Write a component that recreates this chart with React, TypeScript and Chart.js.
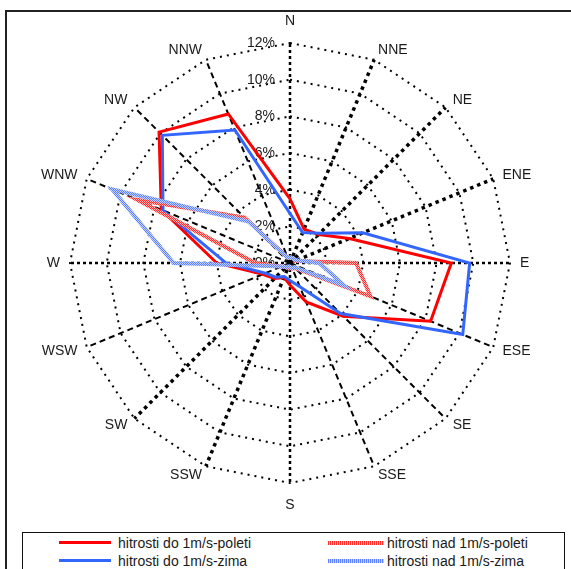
import React, { useEffect, useRef } from 'react';
import { Chart, registerables } from 'chart.js';

Chart.register(...registerables);

const DIRECTIONS = ['N', 'NNE', 'NE', 'ENE', 'E', 'ESE', 'SE', 'SSE', 'S', 'SSW', 'SW', 'WSW', 'W', 'WNW', 'NW', 'NNW'];
const TICK_VALUES = [0, 2, 4, 6, 8, 10, 12];
const TICK_SUFFIX = '%';
const SERIES_NAMES = [
  'hitrosti do 1m/s-poleti',
  'hitrosti do 1m/s-zima',
  'hitrosti nad 1m/s-poleti',
  'hitrosti nad 1m/s-zima',
];
const DO_POLETI = [3.5, 2.0, 2.2, 3.5, 8.8, 8.3, 4.1, 2.3, 1.2, 0.85, 1.2, 1.6, 4.0, 7.6, 10.1, 8.8];
const DO_ZIMA = [2.7, 1.8, 2.3, 4.3, 9.8, 10.2, 3.9, 1.4, 0.95, 0.8, 1.1, 1.45, 3.5, 7.5, 9.85, 7.85];
const NAD_POLETI = [0.3, 0.3, 0.3, 0.3, 3.6, 4.75, 0.4, 0.3, 0.3, 0.3, 0.3, 0.5, 1.9, 9.0, 3.5, 0.3];
const NAD_ZIMA = [0.3, 0.3, 0.3, 0.4, 1.6, 3.2, 0.3, 0.3, 0.2, 0.2, 0.3, 0.5, 6.35, 10.5, 3.2, 0.3];

const FONT = '"Liberation Sans", Arial, sans-serif';

function makePattern(ctx: CanvasRenderingContext2D, light: string, dark: string) {
  const c = document.createElement('canvas');
  c.width = 2;
  c.height = 2;
  const g = c.getContext('2d')!;
  g.fillStyle = light;
  g.fillRect(0, 0, 2, 2);
  g.fillStyle = dark;
  g.fillRect(0, 0, 1, 1);
  g.fillRect(1, 1, 1, 1);
  return ctx.createPattern(c, 'repeat');
}

const labelPlugin = {
  id: 'roseLabels',
  beforeDatasetsDraw(chart: any) {
    const s = chart.scales.r;
    const ctx = chart.ctx as CanvasRenderingContext2D;
    ctx.save();
    ctx.font = `14px ${FONT}`;
    ctx.fillStyle = '#1a1a1a';
    ctx.textAlign = 'right';
    ctx.textBaseline = 'middle';
    s.ticks.forEach((t: any) => {
      const d = s.getDistanceFromCenterForValue(t.value);
      ctx.fillText(`${t.value}${TICK_SUFFIX}`, s.xCenter - 15, s.yCenter - d);
    });
    ctx.restore();
  },
  afterDraw(chart: any) {
    const s = chart.scales.r;
    const ctx = chart.ctx as CanvasRenderingContext2D;
    ctx.save();
    ctx.font = `14px ${FONT}`;
    ctx.fillStyle = '#1a1a1a';
    ctx.textBaseline = 'middle';
    DIRECTIONS.forEach((lab, i) => {
      const p = s.getPointPosition(i, s.drawingArea + 10);
      let x = p.x;
      let y = p.y;
      if (i === 0) {
        ctx.textAlign = 'center';
        y -= 12;
      } else if (i === 8) {
        ctx.textAlign = 'center';
        y += 12;
      } else if (p.x > s.xCenter) {
        ctx.textAlign = 'left';
      } else {
        ctx.textAlign = 'right';
      }
      ctx.fillText(lab, x, y);
    });
    ctx.restore();
  },
};

function angleStyle(i: number) {
  if (i % 4 === 0) return { w: 2.5, dash: [3, 3] };
  if (i === 1 || i === 2 || i === 9 || i === 10 || i === 3) return { w: 3.5, dash: [3.5, 4] };
  return { w: 2, dash: [6, 4] };
}

function App() {
  const ref = useRef<HTMLCanvasElement>(null);

  useEffect(() => {
    const canvas = ref.current!;
    const ctx = canvas.getContext('2d')!;
    const redPat = makePattern(ctx, '#ffb4b4', '#ff3030');
    const bluePat = makePattern(ctx, '#c4d2ff', '#5c80ff');
    const chart = new Chart(canvas, {
      type: 'radar',
      data: {
        labels: DIRECTIONS,
        datasets: [
          { label: SERIES_NAMES[0], data: DO_POLETI, borderColor: '#ff0000', borderWidth: 3, order: 4 },
          { label: SERIES_NAMES[1], data: DO_ZIMA, borderColor: '#3366ff', borderWidth: 3, order: 3 },
          { label: SERIES_NAMES[2], data: NAD_POLETI, borderColor: redPat as any, borderWidth: 4, order: 2 },
          { label: SERIES_NAMES[3], data: NAD_ZIMA, borderColor: bluePat as any, borderWidth: 4, order: 1 },
        ].map((d) => ({ ...d, fill: false, pointRadius: 0, pointHoverRadius: 0, tension: 0, borderJoinStyle: 'miter' as const })),
      },
      options: {
        responsive: false,
        animation: false,
        events: [],
        layout: { padding: { left: 70, right: 61, top: 43, bottom: 86 } },
        plugins: { legend: { display: false }, tooltip: { enabled: false } },
        scales: {
          r: {
            min: 0,
            max: 12,
            startAngle: 0,
            afterBuildTicks: (s: any) => {
              s.ticks = TICK_VALUES.map((v) => ({ value: v }));
            },
            ticks: { display: false, stepSize: 2 },
            pointLabels: { display: false },
            grid: { color: '#000', lineWidth: 2 },
            border: { dash: [2, 5] },
            angleLines: {
              color: '#000',
              lineWidth: (c: any) => angleStyle(c.index).w,
              borderDash: (c: any) => angleStyle(c.index).dash,
            },
          },
        },
      },
      plugins: [labelPlugin],
    } as any);
    return () => chart.destroy();
  }, []);

  const textStyle: React.CSSProperties = {
    position: 'absolute',
    font: `14px ${FONT}`,
    color: '#1a1a1a',
    lineHeight: '16px',
    whiteSpace: 'nowrap',
  };

  return (
    <div style={{ position: 'fixed', left: 0, top: 0, width: 571, height: 569, overflow: 'hidden', background: '#fff' }}>
      <div style={{ position: 'absolute', left: 5, top: 10, width: 600, height: 600, border: '2px solid #222' }} />
      <canvas ref={ref} width={571} height={569} style={{ position: 'absolute', left: 0, top: 0 }} />
      <div style={{ position: 'absolute', left: 22, top: 532, width: 541, height: 60, border: '1px solid #111', background: '#fff' }} />
      <div style={{ position: 'absolute', left: 59, top: 541, width: 52, height: 3, background: '#ff0000' }} />
      <div style={{ ...textStyle, left: 118, top: 535 }}>{SERIES_NAMES[0]}</div>
      <div style={{ position: 'absolute', left: 59, top: 559, width: 52, height: 3, background: '#3366ff' }} />
      <div style={{ ...textStyle, left: 118, top: 553 }}>{SERIES_NAMES[1]}</div>
      <div style={{ position: 'absolute', left: 328, top: 541, width: 56, height: 4, background: 'repeating-linear-gradient(90deg, #ff3030 0 1px, #ffb4b4 1px 2px)' }} />
      <div style={{ ...textStyle, left: 387, top: 535 }}>{SERIES_NAMES[2]}</div>
      <div style={{ position: 'absolute', left: 328, top: 559, width: 56, height: 4, background: 'repeating-linear-gradient(90deg, #5c80ff 0 1px, #c4d2ff 1px 2px)' }} />
      <div style={{ ...textStyle, left: 387, top: 553 }}>{SERIES_NAMES[3]}</div>
    </div>
  );
}

export default App;
